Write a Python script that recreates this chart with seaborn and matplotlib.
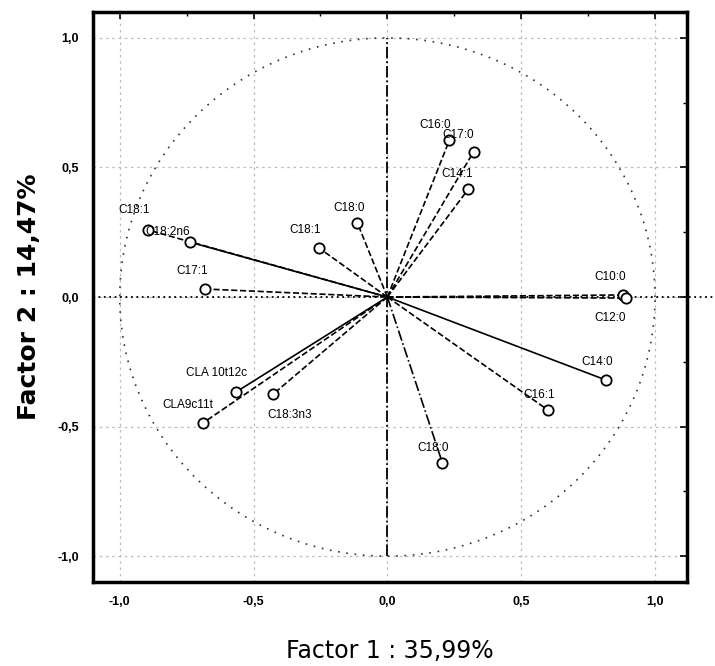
import numpy as np
import pandas as pd
import matplotlib
matplotlib.use("Agg")
import matplotlib.pyplot as plt
import seaborn as sns

# Data: factor loadings
names = ["C18:1", "C18:2n6", "C18:0", "C18:1 ", "C17:1", "C16:0", "C17:0", "C14:1",
         "C10:0", "C12:0", "C14:0", "C16:1", "C18:0 ", "CLA 10t12c", "CLA9c11t", "C18:3n3"]
factor1 = [-0.895, -0.738, -0.112, -0.255, -0.682, 0.232, 0.322, 0.303,
           0.880, 0.891, 0.816, 0.600, 0.206, -0.566, -0.689, -0.427]
factor2 = [0.259, 0.212, 0.286, 0.189, 0.031, 0.606, 0.560, 0.417,
           0.008, -0.004, -0.320, -0.436, -0.641, -0.367, -0.486, -0.375]
line_kind = ["--", "-", "--", "--", "--", "--", "--", "--",
             "--", "--", "-", "--", "-.", "-", "--", "--"]
# label offsets in points (dx, dy)
label_off = [(-10, 14), (-16, 7), (-6, 11), (-10, 13), (-9, 13), (-10, 11), (-11, 12), (-8, 11),
             (-9, 13), (-11, -14), (-6, 13), (-6, 11), (-7, 11), (-14, 14), (-11, 13), (12, -15)]

xticks = [-1.0, -0.5, 0.0, 0.5, 1.0]
yticks = [-1.0, -0.5, 0.0, 0.5, 1.0]
xlabel = "Factor 1 : 35,99%"
ylabel = "Factor 2 : 14,47%"

sns.set_style("white")
plt.rcParams['font.family'] = ['Liberation Sans', 'DejaVu Sans']
plt.rcParams['text.color'] = 'black'
plt.rcParams['axes.labelcolor'] = 'black'
plt.rcParams['xtick.color'] = 'black'
plt.rcParams['ytick.color'] = 'black'

df = pd.DataFrame({"name": names, "f1": factor1, "f2": factor2})

fig = plt.figure(figsize=(7.15, 6.66), dpi=100)
ax = fig.add_axes([0.130, 0.126, 0.831, 0.856])

# grid
for t in xticks:
    ax.axvline(t, color="#bbbbbb", lw=0.9, ls=(0, (2, 3)), zorder=0)
for t in yticks:
    ax.axhline(t, color="#bbbbbb", lw=0.9, ls=(0, (2, 3)), zorder=0)

# unit circle
th = np.linspace(0, 2 * np.pi, 400)
ax.plot(np.cos(th), np.sin(th), color="#333333", lw=1.2, ls=(0, (1, 4)), zorder=1)

# axes lines
ax.plot([0, 0], [-1, 1], color="black", lw=1.3, ls="-.", zorder=2)
ax.plot([-1.1, 1.3], [0, 0], color="black", lw=1.3, ls=(0, (1, 2)), zorder=2, clip_on=False)

# vectors
for x, y, ls in zip(factor1, factor2, line_kind):
    ax.plot([0, x], [0, y], color="black", lw=1.2, ls=ls, zorder=3)

sns.scatterplot(data=df, x="f1", y="f2", ax=ax, marker="o", s=55,
                facecolor="white", edgecolor="black", linewidth=1.3, zorder=4, legend=False)

for n, x, y, (dx, dy) in zip(names, factor1, factor2, label_off):
    ax.annotate(n.strip(), (x, y), xytext=(dx, dy), textcoords="offset points",
                ha="center", va="center", fontsize=8.5, zorder=5)

ax.set_xlim(-1.10, 1.12)
ax.set_ylim(-1.10, 1.10)
ax.set_xticks(xticks)
ax.set_yticks(yticks)
ax.set_xticklabels([f"{t:.1f}".replace(".", ",") for t in xticks], fontsize=9, fontweight="bold")
ax.set_yticklabels([f"{t:.1f}".replace(".", ",") for t in yticks], fontsize=9, fontweight="bold")
ax.set_xticks(np.arange(-1.0, 1.01, 0.25), minor=True)
ax.set_yticks(np.arange(-1.0, 1.01, 0.25), minor=True)
ax.tick_params(direction="in", length=5, width=1.2, top=True, right=True, pad=10)
ax.tick_params(which="minor", direction="in", length=3, width=1, top=True, right=True)
for s in ax.spines.values():
    s.set_linewidth(2.5)
    s.set_color("black")

ax.set_xlabel(xlabel, fontsize=17, labelpad=22, family=["DejaVu Sans"])
ax.set_ylabel(ylabel, fontsize=18, fontweight="bold", labelpad=12, family=["DejaVu Sans"])
ax.set_title("")

fig.savefig("out.png", dpi=100)
